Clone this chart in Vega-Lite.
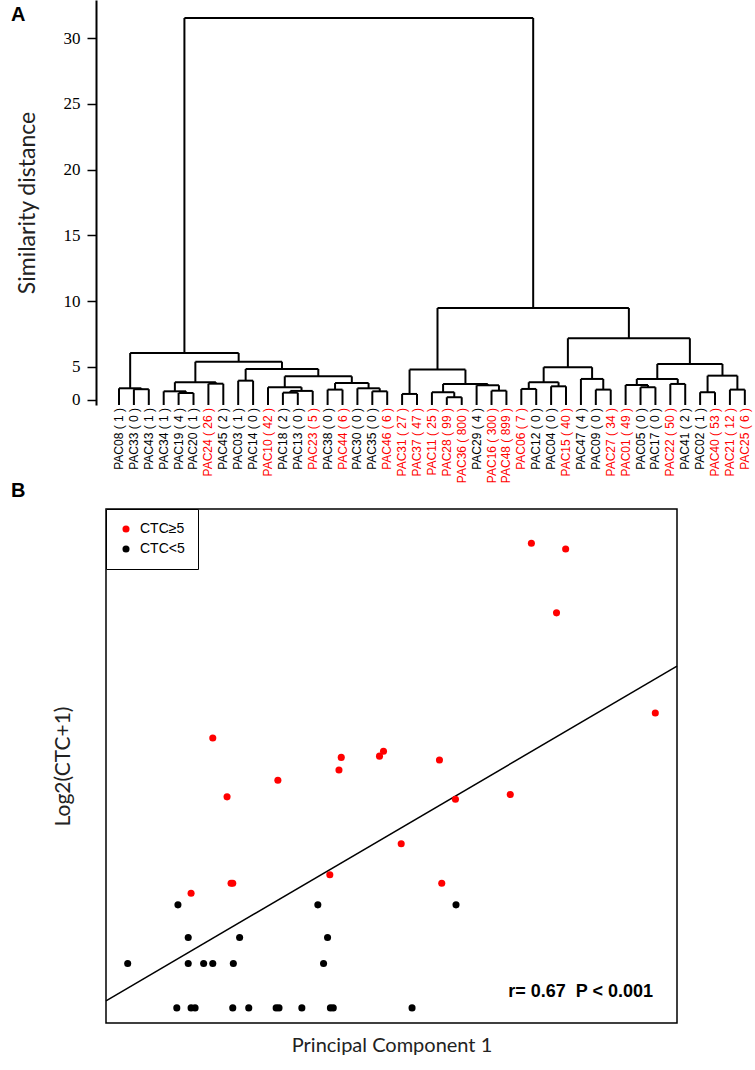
{
  "$schema": "https://vega.github.io/schema/vega-lite/v6.json",
  "padding": {"left": 10, "top": 0, "right": 0, "bottom": 0},
  "autosize": {"type": "pad"},
  "background": "white",
  "spacing": -4,
  "config": {"view": {"stroke": null}, "axis": {"grid": false}, "font": "Liberation Sans"},
  "resolve": {"scale": {"color": "independent"}, "legend": {"color": "independent"}},
  "datasets": {
    "nodes": [
      {"node": "A", "xl": 2, "xr": 3, "h": 3.31, "hl": 2.11, "hr": 2.11},
      {"node": "B", "xl": 1, "xr": 2.5, "h": 3.38, "hl": 2.11, "hr": 3.31},
      {"node": "C", "xl": 5, "xr": 6, "h": 3.02, "hl": 2.11, "hr": 2.11},
      {"node": "D", "xl": 4, "xr": 5.5, "h": 3.15, "hl": 2.11, "hr": 3.02},
      {"node": "E", "xl": 7, "xr": 8, "h": 3.73, "hl": 2.11, "hr": 2.11},
      {"node": "F", "xl": 4.75, "xr": 7.5, "h": 3.84, "hl": 3.15, "hr": 3.73},
      {"node": "G", "xl": 9, "xr": 10, "h": 3.96, "hl": 2.11, "hr": 2.11},
      {"node": "H", "xl": 12, "xr": 13, "h": 3.05, "hl": 2.11, "hr": 2.11},
      {"node": "I", "xl": 12.5, "xr": 14, "h": 3.18, "hl": 3.05, "hr": 2.11},
      {"node": "J", "xl": 11, "xr": 13.25, "h": 3.46, "hl": 2.11, "hr": 3.18},
      {"node": "K", "xl": 15, "xr": 16, "h": 3.28, "hl": 2.11, "hr": 2.11},
      {"node": "M", "xl": 18, "xr": 19, "h": 3.15, "hl": 2.11, "hr": 2.11},
      {"node": "N", "xl": 17, "xr": 18.5, "h": 3.38, "hl": 2.11, "hr": 3.15},
      {"node": "O", "xl": 15.5, "xr": 17.75, "h": 3.78, "hl": 3.28, "hr": 3.38},
      {"node": "P", "xl": 12.125, "xr": 16.625, "h": 4.29, "hl": 3.46, "hr": 3.78},
      {"node": "Q", "xl": 9.5, "xr": 14.375, "h": 4.85, "hl": 3.96, "hr": 4.29},
      {"node": "R", "xl": 6.125, "xr": 11.9375, "h": 5.40, "hl": 3.84, "hr": 4.85},
      {"node": "S", "xl": 1.75, "xr": 9.03125, "h": 6.06, "hl": 3.38, "hr": 5.40},
      {"node": "T", "xl": 20, "xr": 21, "h": 2.95, "hl": 2.11, "hr": 2.11},
      {"node": "U", "xl": 23, "xr": 24, "h": 2.70, "hl": 2.11, "hr": 2.11},
      {"node": "V", "xl": 22, "xr": 23.5, "h": 3.08, "hl": 2.11, "hr": 2.70},
      {"node": "W", "xl": 26, "xr": 27, "h": 3.20, "hl": 2.11, "hr": 2.11},
      {"node": "X", "xl": 25, "xr": 26.5, "h": 3.61, "hl": 2.11, "hr": 3.20},
      {"node": "Y", "xl": 22.75, "xr": 25.75, "h": 3.71, "hl": 3.08, "hr": 3.61},
      {"node": "Z", "xl": 20.5, "xr": 24.25, "h": 4.80, "hl": 2.95, "hr": 3.71},
      {"node": "AA", "xl": 28, "xr": 29, "h": 3.33, "hl": 2.11, "hr": 2.11},
      {"node": "AB", "xl": 30, "xr": 31, "h": 3.53, "hl": 2.11, "hr": 2.11},
      {"node": "AC", "xl": 28.5, "xr": 30.5, "h": 3.84, "hl": 3.33, "hr": 3.53},
      {"node": "AD", "xl": 33, "xr": 34, "h": 3.28, "hl": 2.11, "hr": 2.11},
      {"node": "AE", "xl": 32, "xr": 33.5, "h": 4.09, "hl": 2.11, "hr": 3.28},
      {"node": "AF", "xl": 29.5, "xr": 32.75, "h": 4.98, "hl": 3.84, "hr": 4.09},
      {"node": "AG", "xl": 36, "xr": 37, "h": 3.46, "hl": 2.11, "hr": 2.11},
      {"node": "AH", "xl": 35, "xr": 36.5, "h": 3.63, "hl": 2.11, "hr": 3.46},
      {"node": "AI", "xl": 38, "xr": 39, "h": 3.71, "hl": 2.11, "hr": 2.11},
      {"node": "AJ", "xl": 35.75, "xr": 38.5, "h": 4.09, "hl": 3.63, "hr": 3.71},
      {"node": "AK", "xl": 40, "xr": 41, "h": 3.08, "hl": 2.11, "hr": 2.11},
      {"node": "AL", "xl": 42, "xr": 43, "h": 3.28, "hl": 2.11, "hr": 2.11},
      {"node": "AM", "xl": 40.5, "xr": 42.5, "h": 4.34, "hl": 3.08, "hr": 3.28},
      {"node": "AN", "xl": 37.125, "xr": 41.5, "h": 5.23, "hl": 4.09, "hr": 4.34},
      {"node": "AO", "xl": 31.125, "xr": 39.3125, "h": 7.18, "hl": 4.98, "hr": 5.23},
      {"node": "AP", "xl": 22.375, "xr": 35.21875, "h": 9.48, "hl": 4.80, "hr": 7.18},
      {"node": "Root", "xl": 5.390625, "xr": 28.796875, "h": 31.52, "hl": 6.06, "hr": 9.48}
    ],
    "leaves": [
      {"pos": 1, "label": "PAC08 ( 1 )", "ctc": 1},
      {"pos": 2, "label": "PAC33 ( 0 )", "ctc": 0},
      {"pos": 3, "label": "PAC43 ( 1 )", "ctc": 1},
      {"pos": 4, "label": "PAC34 ( 1 )", "ctc": 1},
      {"pos": 5, "label": "PAC19 ( 4 )", "ctc": 4},
      {"pos": 6, "label": "PAC20 ( 1 )", "ctc": 1},
      {"pos": 7, "label": "PAC24 ( 26 )", "ctc": 26},
      {"pos": 8, "label": "PAC45 ( 2 )", "ctc": 2},
      {"pos": 9, "label": "PAC03 ( 1 )", "ctc": 1},
      {"pos": 10, "label": "PAC14 ( 0 )", "ctc": 0},
      {"pos": 11, "label": "PAC10 ( 42 )", "ctc": 42},
      {"pos": 12, "label": "PAC18 ( 2 )", "ctc": 2},
      {"pos": 13, "label": "PAC13 ( 0 )", "ctc": 0},
      {"pos": 14, "label": "PAC23 ( 5 )", "ctc": 5},
      {"pos": 15, "label": "PAC38 ( 0 )", "ctc": 0},
      {"pos": 16, "label": "PAC44 ( 6 )", "ctc": 6},
      {"pos": 17, "label": "PAC30 ( 0 )", "ctc": 0},
      {"pos": 18, "label": "PAC35 ( 0 )", "ctc": 0},
      {"pos": 19, "label": "PAC46 ( 6 )", "ctc": 6},
      {"pos": 20, "label": "PAC31 ( 27 )", "ctc": 27},
      {"pos": 21, "label": "PAC37 ( 47 )", "ctc": 47},
      {"pos": 22, "label": "PAC11 ( 25 )", "ctc": 25},
      {"pos": 23, "label": "PAC28 ( 99 )", "ctc": 99},
      {"pos": 24, "label": "PAC36 ( 800 )", "ctc": 800},
      {"pos": 25, "label": "PAC29 ( 4 )", "ctc": 4},
      {"pos": 26, "label": "PAC16 ( 300 )", "ctc": 300},
      {"pos": 27, "label": "PAC48 ( 899 )", "ctc": 899},
      {"pos": 28, "label": "PAC06 ( 7 )", "ctc": 7},
      {"pos": 29, "label": "PAC12 ( 0 )", "ctc": 0},
      {"pos": 30, "label": "PAC04 ( 0 )", "ctc": 0},
      {"pos": 31, "label": "PAC15 ( 40 )", "ctc": 40},
      {"pos": 32, "label": "PAC47 ( 4 )", "ctc": 4},
      {"pos": 33, "label": "PAC09 ( 0 )", "ctc": 0},
      {"pos": 34, "label": "PAC27 ( 34 )", "ctc": 34},
      {"pos": 35, "label": "PAC01 ( 49 )", "ctc": 49},
      {"pos": 36, "label": "PAC05 ( 0 )", "ctc": 0},
      {"pos": 37, "label": "PAC17 ( 0 )", "ctc": 0},
      {"pos": 38, "label": "PAC22 ( 50 )", "ctc": 50},
      {"pos": 39, "label": "PAC41 ( 2 )", "ctc": 2},
      {"pos": 40, "label": "PAC02 ( 1 )", "ctc": 1},
      {"pos": 41, "label": "PAC40 ( 53 )", "ctc": 53},
      {"pos": 42, "label": "PAC21 ( 12 )", "ctc": 12},
      {"pos": 43, "label": "PAC25 ( 6 )", "ctc": 6}
    ],
    "patients": [
      {"PC1": -2.74, "log2CTC1": 2.322, "group": "CTC<5"},
      {"PC1": -0.29, "log2CTC1": 2.322, "group": "CTC<5"},
      {"PC1": 2.13, "log2CTC1": 2.322, "group": "CTC<5"},
      {"PC1": -2.56, "log2CTC1": 1.585, "group": "CTC<5"},
      {"PC1": -1.66, "log2CTC1": 1.585, "group": "CTC<5"},
      {"PC1": -0.12, "log2CTC1": 1.585, "group": "CTC<5"},
      {"PC1": -3.62, "log2CTC1": 1, "group": "CTC<5"},
      {"PC1": -2.56, "log2CTC1": 1, "group": "CTC<5"},
      {"PC1": -2.29, "log2CTC1": 1, "group": "CTC<5"},
      {"PC1": -2.13, "log2CTC1": 1, "group": "CTC<5"},
      {"PC1": -1.77, "log2CTC1": 1, "group": "CTC<5"},
      {"PC1": -0.19, "log2CTC1": 1, "group": "CTC<5"},
      {"PC1": -2.76, "log2CTC1": 0, "group": "CTC<5"},
      {"PC1": -2.51, "log2CTC1": 0, "group": "CTC<5"},
      {"PC1": -2.44, "log2CTC1": 0, "group": "CTC<5"},
      {"PC1": -1.78, "log2CTC1": 0, "group": "CTC<5"},
      {"PC1": -1.50, "log2CTC1": 0, "group": "CTC<5"},
      {"PC1": -1.02, "log2CTC1": 0, "group": "CTC<5"},
      {"PC1": -0.97, "log2CTC1": 0, "group": "CTC<5"},
      {"PC1": -0.57, "log2CTC1": 0, "group": "CTC<5"},
      {"PC1": -0.07, "log2CTC1": 0, "group": "CTC<5"},
      {"PC1": -0.02, "log2CTC1": 0, "group": "CTC<5"},
      {"PC1": 1.36, "log2CTC1": 0, "group": "CTC<5"},
      {"PC1": -2.51, "log2CTC1": 2.585, "group": "CTC≥5"},
      {"PC1": -1.81, "log2CTC1": 2.807, "group": "CTC≥5"},
      {"PC1": -1.78, "log2CTC1": 2.807, "group": "CTC≥5"},
      {"PC1": 1.88, "log2CTC1": 2.807, "group": "CTC≥5"},
      {"PC1": -0.08, "log2CTC1": 3.0, "group": "CTC≥5"},
      {"PC1": 1.17, "log2CTC1": 3.700, "group": "CTC≥5"},
      {"PC1": 2.12, "log2CTC1": 4.700, "group": "CTC≥5"},
      {"PC1": -1.88, "log2CTC1": 4.755, "group": "CTC≥5"},
      {"PC1": 3.08, "log2CTC1": 4.807, "group": "CTC≥5"},
      {"PC1": -0.99, "log2CTC1": 5.129, "group": "CTC≥5"},
      {"PC1": 0.08, "log2CTC1": 5.358, "group": "CTC≥5"},
      {"PC1": -2.13, "log2CTC1": 6.08, "group": "CTC≥5"},
      {"PC1": 1.84, "log2CTC1": 5.585, "group": "CTC≥5"},
      {"PC1": 0.12, "log2CTC1": 5.644, "group": "CTC≥5"},
      {"PC1": 0.79, "log2CTC1": 5.672, "group": "CTC≥5"},
      {"PC1": 0.86, "log2CTC1": 5.781, "group": "CTC≥5"},
      {"PC1": 5.62, "log2CTC1": 6.644, "group": "CTC≥5"},
      {"PC1": 3.89, "log2CTC1": 8.90, "group": "CTC≥5"},
      {"PC1": 4.05, "log2CTC1": 10.34, "group": "CTC≥5"},
      {"PC1": 3.45, "log2CTC1": 10.47, "group": "CTC≥5"}
    ],
    "fitline": [
      {"PC1": -4, "log2CTC1": 0.16},
      {"PC1": 6, "log2CTC1": 7.70}
    ]
  },
  "vconcat": [
    {
      "width": 650,
      "height": 405,
      "layer": [
        {
          "data": {"name": "nodes"},
          "mark": {"type": "rule", "strokeWidth": 2, "color": "black"},
          "encoding": {
            "x": {"field": "xl", "type": "quantitative", "scale": {"domain": [0.128, 43.75], "nice": false, "zero": false}, "axis": null},
            "x2": {"field": "xr"},
            "y": {"field": "h", "type": "quantitative", "scale": {"domain": [2.11, 32.89], "nice": false, "zero": false},
                  "axis": {"title": "Similarity distance", "values": [2.5, 5, 10, 15, 20, 25, 30], "labelExpr": "datum.value < 3 ? '0' : datum.label", "offset": 10, "tickSize": 9, "tickWidth": 1.5, "tickColor": "black", "domainWidth": 2, "domainColor": "black", "labelFont": "Liberation Serif", "labelFontSize": 17, "labelColor": "black", "labelPadding": 7, "titleFont": "Lato", "titleFontSize": 23, "titleFontWeight": "normal", "titleColor": "#222222", "titlePadding": 24}}
          }
        },
        {
          "data": {"name": "nodes"},
          "mark": {"type": "rule", "strokeWidth": 2, "color": "black"},
          "encoding": {
            "x": {"field": "xl", "type": "quantitative"},
            "y": {"field": "h", "type": "quantitative"},
            "y2": {"field": "hl"}
          }
        },
        {
          "data": {"name": "nodes"},
          "mark": {"type": "rule", "strokeWidth": 2, "color": "black"},
          "encoding": {
            "x": {"field": "xr", "type": "quantitative"},
            "y": {"field": "h", "type": "quantitative"},
            "y2": {"field": "hr"}
          }
        },
        {
          "data": {"name": "leaves"},
          "mark": {"type": "text", "angle": 270, "align": "right", "baseline": "middle", "dx": -3, "fontSize": 12, "font": "Liberation Sans"},
          "encoding": {
            "x": {"field": "pos", "type": "quantitative"},
            "y": {"datum": 2.11},
            "text": {"field": "label"},
            "color": {"condition": {"test": "datum.ctc >= 5", "value": "#ff0000"}, "value": "#000000"}
          }
        },
        {
          "data": {"values": [{"panel": "A"}]},
          "mark": {"type": "text", "align": "left", "baseline": "middle", "dx": -95, "dy": 15, "fontSize": 20, "fontWeight": "bold", "font": "Liberation Sans", "color": "black"},
          "encoding": {
            "x": {"datum": 0.128},
            "y": {"datum": 32.89},
            "text": {"field": "panel"}
          }
        }
      ]
    },
    {
      "width": 571,
      "height": 514,
      "view": {"stroke": "black", "strokeWidth": 1.5},
      "layer": [
        {
          "data": {"name": "fitline"},
          "mark": {"type": "line", "color": "black", "strokeWidth": 1.5},
          "encoding": {
            "x": {"field": "PC1", "type": "quantitative", "scale": {"domain": [-4, 6], "nice": false, "zero": false},
                  "axis": {"title": "Principal Component 1", "labels": false, "ticks": false, "domain": false, "titlePadding": 12, "titleFont": "Lato", "titleFontSize": 20, "titleFontWeight": "normal", "titleColor": "#222222"}},
            "y": {"field": "log2CTC1", "type": "quantitative", "scale": {"domain": [-0.34, 11.24], "nice": false, "zero": false},
                  "axis": {"title": "Log2(CTC+1)", "labels": false, "ticks": false, "domain": false, "titlePadding": 33, "titleFont": "Lato", "titleFontSize": 21, "titleFontWeight": "normal", "titleColor": "#222222"}}
          }
        },
        {
          "data": {"name": "patients"},
          "mark": {"type": "point", "filled": true, "size": 50, "opacity": 1},
          "encoding": {
            "x": {"field": "PC1", "type": "quantitative"},
            "y": {"field": "log2CTC1", "type": "quantitative"},
            "color": {"field": "group", "type": "nominal", "scale": {"domain": ["CTC≥5", "CTC<5"], "range": ["#ff0000", "#000000"]},
                      "legend": {"title": null, "orient": "top-left", "offset": 0, "padding": 13, "strokeColor": "black", "fillColor": "white", "labelFont": "Liberation Sans", "labelFontSize": 14, "labelColor": "black", "symbolType": "circle", "symbolSize": 50, "symbolStrokeWidth": 0, "labelOffset": 7, "rowPadding": 6, "cornerRadius": 0}}
          }
        },
        {
          "data": {"values": [{"note": "r= 0.67\u00a0\u00a0P < 0.001"}]},
          "mark": {"type": "text", "align": "right", "baseline": "alphabetic", "fontSize": 18, "fontWeight": "bold", "font": "Liberation Sans", "color": "black"},
          "encoding": {
            "x": {"datum": 5.58},
            "y": {"datum": 0.25},
            "text": {"field": "note"}
          }
        },
        {
          "data": {"values": [{"panel": "B"}]},
          "mark": {"type": "text", "align": "left", "baseline": "middle", "dx": -95, "dy": -18, "fontSize": 20, "fontWeight": "bold", "font": "Liberation Sans", "color": "black"},
          "encoding": {
            "x": {"datum": -4},
            "y": {"datum": 11.24},
            "text": {"field": "panel"}
          }
        }
      ]
    }
  ]
}
